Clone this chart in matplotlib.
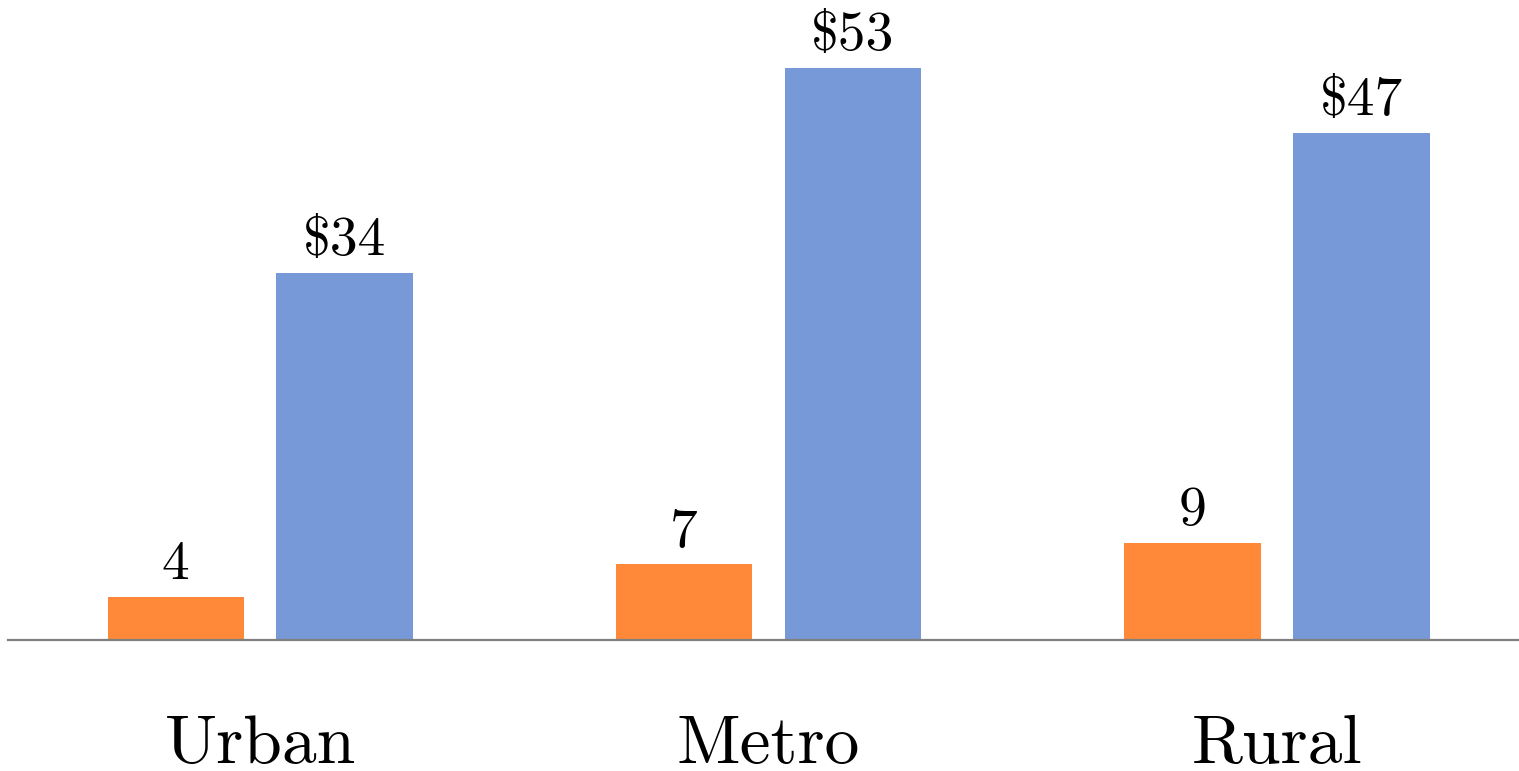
import numpy as np
import matplotlib.pyplot as plt

plt.rcParams["font.family"] = "serif"
plt.rcParams["font.serif"] = ["cmr10", "DejaVu Serif"]
plt.rcParams["axes.formatter.use_mathtext"] = True

categories = ["Urban", "Metro", "Rural"]
counts = [4, 7, 9]
dollars = [34, 53, 47]
count_labels = ["4", "7", "9"]
dollar_labels = ["\\$34", "\\$53", "\\$47"]

fig = plt.figure(figsize=(15.19, 7.71), dpi=100)
ax = fig.add_axes([8 / 1519, 131 / 771, 1 - 8 / 1519, 640 / 771])

x = np.arange(len(categories))
w = 0.268
off = 0.166
b1 = ax.bar(x - off, counts, width=w, color="#FF8939")
b2 = ax.bar(x + off, dollars, width=w, color="#7799D8")

for bars, labels in [(b1, count_labels), (b2, dollar_labels)]:
    for rect, lab in zip(bars, labels):
        ax.annotate(lab, (rect.get_x() + rect.get_width() / 2, rect.get_height()),
                    xytext=(0, 5), textcoords="offset points",
                    ha="center", va="bottom", fontsize=40)

ax.set_xlim(-0.496, 2.476)
ax.set_ylim(0, 59.3)
ax.set_yticks([])
ax.set_xticks(x)
ax.set_xticklabels(categories, fontsize=50)
ax.tick_params(axis="x", length=0, pad=54)
for s in ["top", "left", "right"]:
    ax.spines[s].set_visible(False)
ax.spines["bottom"].set_color("#7f7f7f")
ax.spines["bottom"].set_linewidth(1.6)

fig.savefig("out.png", dpi=100)
